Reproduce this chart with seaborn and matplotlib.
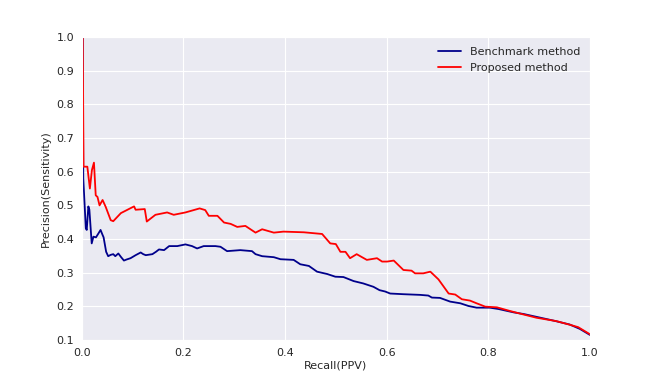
import pandas as pd
import seaborn as sns
import matplotlib
matplotlib.use("Agg")
import matplotlib.pyplot as plt

# curva del metodo de referencia
recall_bench = [0.002, 0.003, 0.008, 0.0098, 0.013, 0.015, 0.0196, 0.023, 0.028, 0.033,
                0.037, 0.041, 0.043, 0.048, 0.052, 0.057, 0.062, 0.066, 0.072, 0.077,
                0.083, 0.088, 0.096, 0.106, 0.116, 0.121, 0.126, 0.139, 0.146, 0.152,
                0.162, 0.172, 0.188, 0.204, 0.217, 0.227, 0.240, 0.263, 0.273, 0.286,
                0.312, 0.335, 0.342, 0.355, 0.378, 0.391, 0.417, 0.430, 0.447, 0.463,
                0.483, 0.499, 0.515, 0.535, 0.554, 0.574, 0.586, 0.597, 0.607, 0.633,
                0.666, 0.682, 0.689, 0.705, 0.725, 0.745, 0.761, 0.777, 0.803, 0.820,
                0.850, 0.870, 0.900, 0.930, 0.960, 0.980, 1.0]
prec_bench = [1.0, 0.58, 0.432, 0.427, 0.497, 0.487, 0.387, 0.407, 0.405, 0.417,
              0.427, 0.412, 0.405, 0.362, 0.349, 0.353, 0.355, 0.349, 0.357, 0.347,
              0.336, 0.339, 0.343, 0.352, 0.360, 0.355, 0.352, 0.355, 0.362, 0.369,
              0.367, 0.379, 0.379, 0.384, 0.379, 0.372, 0.379, 0.379, 0.377, 0.364,
              0.367, 0.364, 0.355, 0.349, 0.346, 0.340, 0.338, 0.325, 0.320, 0.303,
              0.296, 0.288, 0.287, 0.275, 0.268, 0.258, 0.248, 0.244, 0.238, 0.236,
              0.234, 0.232, 0.226, 0.225, 0.214, 0.209, 0.201, 0.196, 0.196, 0.192,
              0.182, 0.177, 0.167, 0.157, 0.146, 0.133, 0.115]

# curva del metodo propuesto
recall_prop = [0.002, 0.0035, 0.011, 0.016, 0.020, 0.024, 0.0275, 0.031, 0.035, 0.041,
               0.047, 0.057, 0.062, 0.077, 0.103, 0.106, 0.124, 0.128, 0.145, 0.168,
               0.181, 0.204, 0.232, 0.243, 0.250, 0.267, 0.280, 0.293, 0.306, 0.322,
               0.342, 0.355, 0.378, 0.397, 0.437, 0.473, 0.489, 0.500, 0.509, 0.519,
               0.528, 0.541, 0.561, 0.581, 0.591, 0.601, 0.614, 0.633, 0.649, 0.656,
               0.672, 0.686, 0.702, 0.722, 0.735, 0.748, 0.764, 0.777, 0.794, 0.817,
               0.843, 0.866, 0.895, 0.934, 0.961, 0.977, 1.0]
prec_prop = [1.0, 0.615, 0.615, 0.55, 0.605, 0.627, 0.53, 0.525, 0.50, 0.516,
             0.496, 0.456, 0.453, 0.477, 0.497, 0.487, 0.489, 0.452, 0.472, 0.479,
             0.472, 0.479, 0.491, 0.486, 0.469, 0.469, 0.449, 0.445, 0.436, 0.439,
             0.419, 0.429, 0.419, 0.422, 0.420, 0.415, 0.387, 0.385, 0.362, 0.362,
             0.343, 0.355, 0.338, 0.343, 0.333, 0.333, 0.336, 0.308, 0.306, 0.298,
             0.298, 0.303, 0.280, 0.238, 0.235, 0.221, 0.217, 0.209, 0.199, 0.197,
             0.186, 0.177, 0.166, 0.156, 0.145, 0.138, 0.117]

labels = ["Benchmark method", "Proposed method"]
colors = ["#00008B", "#FF0000"]

df = pd.concat([
    pd.DataFrame({"recall": recall_bench, "precision": prec_bench, "method": labels[0]}),
    pd.DataFrame({"recall": recall_prop, "precision": prec_prop, "method": labels[1]}),
])

sns.set_style("darkgrid")
plt.rcParams["font.family"] = ["DejaVu Sans"]

fig, ax = plt.subplots(figsize=(6.54, 3.79), dpi=100)
fig.subplots_adjust(left=0.125, right=0.902, bottom=0.103, top=0.902)

sns.lineplot(data=df, x="recall", y="precision", hue="method", sort=False,
             palette=colors, linewidth=1.3, ax=ax)

ax.set_xlim(0, 1)
ax.set_ylim(0.1, 1.0)
ax.set_xticks([0.0, 0.2, 0.4, 0.6, 0.8, 1.0])
ax.set_yticks([0.1, 0.2, 0.3, 0.4, 0.5, 0.6, 0.7, 0.8, 0.9, 1.0])
ax.tick_params(labelsize=8, pad=2)
ax.set_xlabel("Recall(PPV)", fontsize=8, labelpad=2)
ax.set_ylabel("Precision(Sensitivity)", fontsize=8)
ax.legend(loc="upper right", frameon=False, fontsize=8, title=None)

fig.savefig("out.png", dpi=100)
